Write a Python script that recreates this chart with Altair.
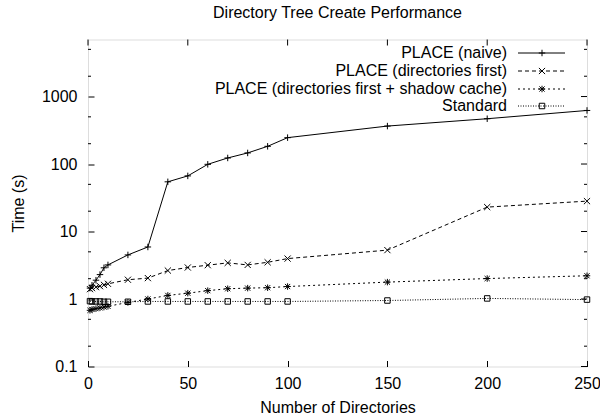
import altair as alt
import pandas as pd

# ---- data -------------------------------------------------------------
dirs = [1, 2, 4, 6, 8, 10, 20, 30, 40, 50, 60, 70, 80, 90, 100, 150, 200, 250]
naive = [1.45, 1.6, 1.9, 2.3, 2.9, 3.2, 4.5, 5.9, 54.5, 66.7, 99, 123, 146, 183, 246, 365, 469, 622]
dirs_first = [1.4, 1.45, 1.5, 1.55, 1.62, 1.68, 1.93, 2.04, 2.64, 2.93, 3.17, 3.43, 3.2, 3.5, 3.97, 5.3, 23, 28.2]
shadow = [0.68, 0.7, 0.72, 0.74, 0.76, 0.78, 0.89, 1.0, 1.13, 1.22, 1.33, 1.42, 1.45, 1.47, 1.53, 1.78, 2.01, 2.21]
standard = [0.93, 0.92, 0.92, 0.92, 0.91, 0.91, 0.91, 0.92, 0.92, 0.92, 0.92, 0.92, 0.92, 0.92, 0.92, 0.95, 1.02, 0.98]

series_names = [
    "PLACE (naive)",
    "PLACE (directories first)",
    "PLACE (directories first + shadow cache)",
    "Standard",
]
series_values = [naive, dirs_first, shadow, standard]

x_ticks = [0, 50, 100, 150, 200, 250]
y_ticks = [0.1, 1, 10, 100, 1000]
y_minor = [0.2, 0.5, 2, 5, 20, 50, 200, 500, 2000, 5000]

# ---- styling ----------------------------------------------------------
FONT = "Liberation Sans"
W, H = 499, 327
PLUS = "M-1,0L1,0M0,-1L0,1"
CROSS = "M-1,-1L1,1M-1,1L1,-1"
STAR = "M-1,0L1,0M0,-1L0,1M-0.8,-0.8L0.8,0.8M-0.8,0.8L0.8,-0.8"

styles = [
    dict(dash=None, shape=PLUS, size=42),
    dict(dash=[4, 3], shape=CROSS, size=38),
    dict(dash=[2, 3], shape=STAR, size=42),
    dict(dash=[1, 1.5], shape="square", size=30),
]

xs = alt.Scale(domain=[0, 250], nice=False, zero=False)
ys = alt.Scale(type="log", domain=[0.1, 7000], nice=False)

# inward ticks: the axis line is pulled into the plot by the tick length
x_axis = alt.Axis(
    values=x_ticks, tickSize=6, offset=-6, domain=False, grid=False,
    labelFlush=False, labelPadding=9, labelFontSize=16, labelFont=FONT,
    labelColor="black", tickColor="black", title="Number of Directories",
    titleFont=FONT, titleFontSize=16, titleFontWeight="normal",
    titleColor="black", titlePadding=8,
)
y_axis = alt.Axis(
    values=y_ticks, format="~g", tickSize=6, offset=-6, domain=False, grid=False,
    labelFlush=False, labelPadding=11, labelFontSize=16, labelFont=FONT,
    labelColor="black", tickColor="black", title="Time (s)", titleFont=FONT,
    titleFontSize=16, titleFontWeight="normal", titleColor="black",
    titlePadding=15,
)

rows = []
for name, vals in zip(series_names, series_values):
    for d, v in zip(dirs, vals):
        rows.append({"dirs": d, "time": v, "series": name})
df = pd.DataFrame(rows)


def dash_kw(dash):
    return {} if dash is None else {"strokeDash": dash}


def X(field):
    return alt.X(field, scale=xs, axis=x_axis)


def Y(field):
    return alt.Y(field, scale=ys, axis=y_axis)


layers = []
for name, st in zip(series_names, styles):
    base = alt.Chart(df).transform_filter(alt.datum.series == name)
    line = base.mark_line(color="black", strokeWidth=1, **dash_kw(st["dash"])).encode(
        x=X("dirs:Q"), y=Y("time:Q")
    )
    pts = base.mark_point(
        shape=st["shape"], size=st["size"], filled=False, color="black",
        strokeWidth=1, opacity=1,
    ).encode(x=X("dirs:Q"), y=Y("time:Q"))
    layers += [line, pts]

# mirrored and minor tick marks
tick_kw = dict(color="black", strokeWidth=1)
top_ticks = alt.Chart(pd.DataFrame({"v": x_ticks})).mark_rule(**tick_kw).encode(
    x=X("v:Q"), y=alt.value(0), y2=alt.value(6)
)
right_major = alt.Chart(pd.DataFrame({"v": y_ticks})).mark_rule(**tick_kw).encode(
    y=Y("v:Q"), x=alt.value(W - 6), x2=alt.value(W)
)
left_minor = alt.Chart(pd.DataFrame({"v": y_minor})).mark_rule(**tick_kw).encode(
    y=Y("v:Q"), x=alt.value(0), x2=alt.value(3)
)
right_minor = alt.Chart(pd.DataFrame({"v": y_minor})).mark_rule(**tick_kw).encode(
    y=Y("v:Q"), x=alt.value(W - 3), x2=alt.value(W)
)
layers += [top_ticks, right_major, left_minor, right_minor]

# key in the upper right corner: label, line sample, marker
key_rows = [13.5, 31.5, 49.5, 66.5]
for name, st, ry in zip(series_names, styles, key_rows):
    kd = pd.DataFrame({"label": [name]})
    layers.append(
        alt.Chart(kd).mark_text(
            align="right", baseline="middle", font=FONT, fontSize=16, color="black"
        ).encode(text="label:N", x=alt.value(419), y=alt.value(ry))
    )
    layers.append(
        alt.Chart(kd).mark_rule(color="black", strokeWidth=1, **dash_kw(st["dash"])).encode(
            x=alt.value(430), x2=alt.value(477), y=alt.value(ry)
        )
    )
    layers.append(
        alt.Chart(kd).mark_point(
            shape=st["shape"], size=st["size"], filled=False, color="black",
            strokeWidth=1, opacity=1,
        ).encode(x=alt.value(454), y=alt.value(ry))
    )

chart = (
    alt.layer(*layers)
    .properties(
        width=W,
        height=H,
        title=alt.TitleParams(
            "Directory Tree Create Performance", font=FONT, fontSize=16,
            fontWeight="normal", color="black", anchor="middle", frame="group",
            offset=18,
        ),
        padding={"left": 88, "top": 39.5, "right": 13, "bottom": 52.5},
        autosize=alt.AutoSizeParams(type="none"),
    )
    .configure_view(stroke="black", strokeWidth=1)
    .configure(background="white")
)

chart.save("out.html", embed_options={"renderer": "svg", "actions": False})
